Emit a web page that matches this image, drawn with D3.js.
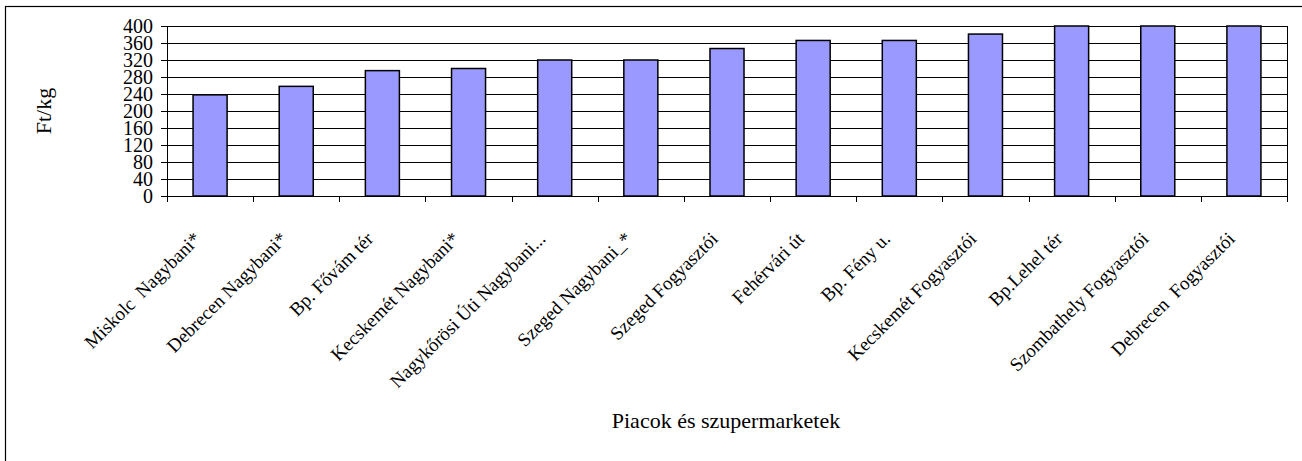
<!DOCTYPE html>
<html>
<head>
<meta charset="utf-8">
<script src="https://cdn.jsdelivr.net/npm/d3@7"></script>
<style>
  body { margin: 0; background: #fff; }
  svg text { font-family: "Liberation Serif", "Times New Roman", serif; fill: #000; }
</style>
</head>
<body>
<div id="chart"></div>
<script>
(function () {

  // data
  var markets = [
    "Miskolc  Nagybani*", "Debrecen Nagybani*", "Bp. Fővám tér", "Kecskemét Nagybani*",
    "Nagykőrösi Úti Nagybani...", "Szeged Nagybani_*", "Szeged Fogyasztói", "Fehérvári út",
    "Bp. Fény u.", "Kecskemét Fogyasztói", "Bp.Lehel tér", "Szombathely Fogyasztói",
    "Debrecen  Fogyasztói"
  ];
  var prices = [238, 258, 295, 300, 320, 320, 347, 366, 366, 381, 400, 400, 400];
  var yTicks = [0, 40, 80, 120, 160, 200, 240, 280, 320, 360, 400];
  var yTitle = "Ft/kg";
  var xTitle = "Piacok és szupermarketek";

  var W = 1302, H = 461,
    left = 167, right = 1287, top = 26, bottom = 196;

  var svg = d3.select("#chart").append("svg")
    .attr("width", W)
    .attr("height", H);

  // outer frame (runs off the right and bottom edge)
  svg.append("rect")
    .attr("x", 5.5).attr("y", 6.5)
    .attr("width", W).attr("height", H)
    .attr("fill", "none")
    .attr("stroke", "#000")
    .attr("stroke-width", 1.2);

  var x = d3.scaleBand().domain(markets).range([left, right]).padding(0);
  var y = d3.scaleLinear().domain([0, 400]).range([bottom, top]);

  // gridlines + left ticks
  var yAxis = d3.axisLeft(y).tickValues(yTicks).tickSize(6).tickPadding(8);
  var gy = svg.append("g").attr("transform", "translate(" + left + ",0)").call(yAxis);
  gy.select(".domain").remove();
  gy.selectAll(".tick line").attr("stroke", "#000");
  gy.selectAll(".tick text")
    .style("font-size", "20px")
    .attr("dy", "0.33em");

  svg.append("g").selectAll("line.grid")
    .data(yTicks)
    .join("line")
    .attr("class", "grid")
    .attr("x1", left).attr("x2", right)
    .attr("y1", function (d) { return Math.round(y(d)) + 0.5; })
    .attr("y2", function (d) { return Math.round(y(d)) + 0.5; })
    .attr("stroke", "#000")
    .attr("stroke-width", 1);

  // plot frame: left axis and right edge
  svg.append("line")
    .attr("x1", left + 0.5).attr("x2", left + 0.5)
    .attr("y1", top).attr("y2", bottom + 0.5)
    .attr("stroke", "#000");
  svg.append("line")
    .attr("x1", right + 0.5).attr("x2", right + 0.5)
    .attr("y1", top).attr("y2", bottom + 0.5)
    .attr("stroke", "#000");

  // bars
  var barW = x.bandwidth() * 0.395;
  svg.append("g").selectAll("rect")
    .data(prices)
    .join("rect")
    .attr("x", function (d, i) { return x(markets[i]) + (x.bandwidth() - barW) / 2; })
    .attr("y", function (d) { return y(d); })
    .attr("width", barW)
    .attr("height", function (d) { return y(0) - y(d); })
    .attr("fill", "#9999ff")
    .attr("stroke", "#000")
    .attr("stroke-width", 1.5);

  // x axis ticks at category boundaries
  var bounds = markets.map(function (m) { return x(m); }).concat([right]);
  svg.append("g").selectAll("line")
    .data(bounds)
    .join("line")
    .attr("x1", function (d) { return Math.round(d) + 0.5; })
    .attr("x2", function (d) { return Math.round(d) + 0.5; })
    .attr("y1", bottom).attr("y2", bottom + 6)
    .attr("stroke", "#000");

  // rotated category labels
  svg.append("g").selectAll("text")
    .data(markets)
    .join("text")
    .attr("text-anchor", "end")
    .attr("transform", function (d) {
      var cx = x(d) + x.bandwidth() / 2 - 8;
      return "translate(" + cx + "," + (bottom + 44) + ") rotate(-45)";
    })
    .style("font-size", "19px")
    .style("white-space", "pre")
    .text(function (d) { return d; });

  // axis titles
  svg.append("text")
    .attr("transform", "translate(51," + ((top + bottom) / 2) + ") rotate(-90)")
    .attr("text-anchor", "middle")
    .style("font-size", "22px")
    .text(yTitle);

  svg.append("text")
    .attr("x", (left + right) / 2 - 1)
    .attr("y", 428)
    .attr("text-anchor", "middle")
    .style("font-size", "22px")
    .text(xTitle);

}());
</script>
</body>
</html>
